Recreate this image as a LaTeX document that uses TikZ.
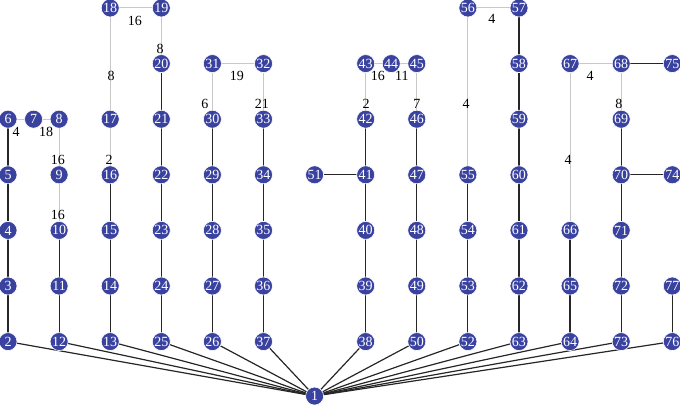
\documentclass[tikz,border=0pt]{standalone}
\usepackage{fontspec}
\setmainfont{Liberation Serif}
\usetikzlibrary{backgrounds}
\definecolor{nodeblue}{RGB}{58,66,160}
\definecolor{edgegray}{RGB}{200,200,200}
\begin{document}
\begin{tikzpicture}[x=51.1pt,y=-55.6pt,
  vtx/.style={circle,fill=nodeblue,draw=white,line width=0.6pt,inner sep=0pt,minimum size=18pt,text=white,font=\fontsize{14}{14}\selectfont},
  blk/.style={draw=black!85,line width=1.2pt},
  gry/.style={draw=edgegray,line width=1pt},
  lbl/.style={font=\fontsize{14}{14}\selectfont,inner sep=0pt}]
\useasboundingbox (-0.1566,-0.1439) rectangle (13.151,7.140);
% nodes
\foreach \n/\c/\r in {1/6/6.98,
 2/0/6,3/0/5,4/0/4,5/0/3,6/0/2,7/0.5/2,
 12/1/6,11/1/5,10/1/4,9/1/3,8/1/2,
 13/2/6,14/2/5,15/2/4,16/2/3,17/2/2,18/2/0,
 25/3/6,24/3/5,23/3/4,22/3/3,21/3/2,20/3/1,19/3/0,
 26/4/6,27/4/5,28/4/4,29/4/3,30/4/2,31/4/1,
 37/5/6,36/5/5,35/5/4,34/5/3,33/5/2,32/5/1,
 51/6/3,
 38/7/6,39/7/5,40/7/4,41/7/3,42/7/2,43/7/1,44/7.5/1,
 50/8/6,49/8/5,48/8/4,47/8/3,46/8/2,45/8/1,
 52/9/6,53/9/5,54/9/4,55/9/3,56/9/0,
 63/10/6,62/10/5,61/10/4,60/10/3,59/10/2,58/10/1,57/10/0,
 64/11/6,65/11/5,66/11/4,67/11/1,
 73/12/6,72/12/5,71/12/4,70/12/3,69/12/2,68/12/1,
 76/13/6,77/13/5,74/13/3,75/13/1}
 \node[vtx] (n\n) at (\c,\r) {\n};
\begin{scope}[on background layer]
\foreach \a/\b in {2/3,3/4,4/5,5/6,12/11,11/10,13/14,14/15,15/16,
 25/24,24/23,23/22,22/21,21/20,26/27,27/28,28/29,29/30,37/36,36/35,35/34,34/33,
 38/39,39/40,40/41,41/42,51/41,50/49,49/48,48/47,47/46,
 52/53,53/54,54/55,63/62,62/61,61/60,60/59,59/58,58/57,
 64/65,65/66,73/72,72/71,71/70,70/69,70/74,68/75,76/77,
 1/2,1/12,1/13,1/25,1/26,1/37,1/38,1/50,1/52,1/63,1/64,1/73,1/76}
 \draw[blk] (n\a.center) -- (n\b.center);
\foreach \a/\b in {6/7,7/8,8/9,9/10,16/17,17/18,18/19,19/20,30/31,31/32,32/33,
 42/43,43/44,44/45,45/46,55/56,56/57,66/67,67/68,68/69}
 \draw[gry] (n\a.center) -- (n\b.center);
\end{scope}
% labels
\foreach \t/\c/\r in {4/0.157/2.23, 18/0.744/2.23, 16/0.978/2.734, 16/0.978/3.72,
 2/1.977/2.734, 8/2.016/1.223, 16/2.485/0.234, 8/2.975/0.737,
 19/4.48/1.223, 6/3.855/1.727, 21/4.97/1.727,
 16/7.24/1.223, 11/7.71/1.223, 2/7.006/1.727, 7/8.004/1.727,
 4/8.963/1.727, 4/9.47/0.198, 4/11.39/1.223, 8/11.957/1.727, 4/10.96/2.734}
 \node[lbl] at (\c,\r) {\t};
\end{tikzpicture}
\end{document}
